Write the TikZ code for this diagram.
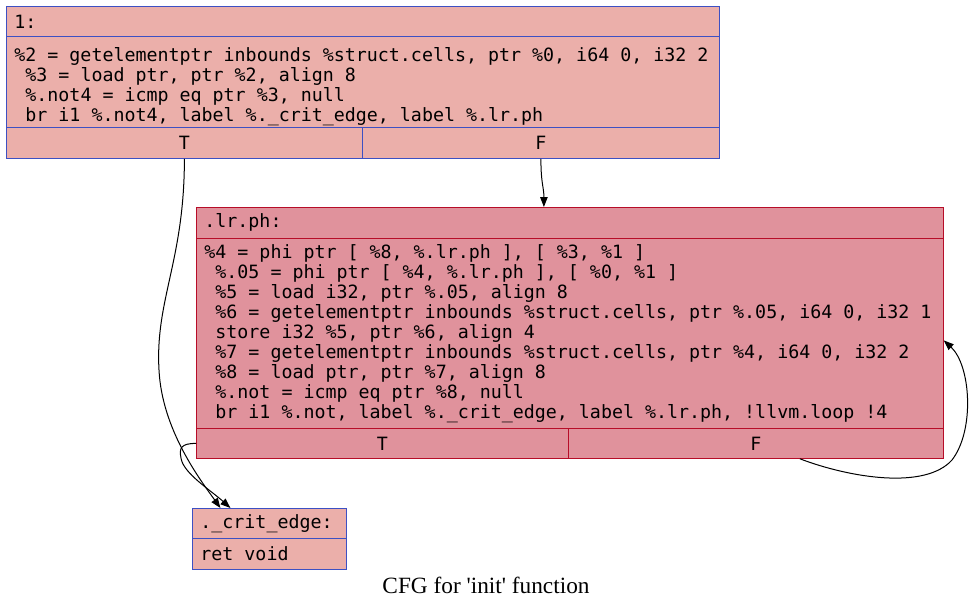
\documentclass[tikz,border=0pt]{standalone}
\usepackage{fontspec}
\setmainfont{Liberation Serif}
\setmonofont{DejaVu Sans Mono}
\usetikzlibrary{arrows.meta}

\definecolor{fundofrio}{RGB}{235,175,170}
\definecolor{fundoquente}{RGB}{224,146,156}
\definecolor{bordafria}{HTML}{3D50C3}
\definecolor{bordaquente}{HTML}{B70D28}

\newcommand{\esp}{\mbox{\ }}

\begin{document}
\begin{tikzpicture}[x=1pt,y=-1pt,
    bloco/.style={draw, line width=0.8pt, anchor=north west, inner ysep=0pt, inner xsep=8pt,
        font=\ttfamily\fontsize{18.3}{20}\selectfont, align=left,
        execute at begin node={\spaceskip=\fontdimen2\font\relax}},
    frio/.style={bloco, fill=fundofrio, draw=bordafria},
    quente/.style={bloco, fill=fundoquente, draw=bordaquente},
    ramo/.style={align=center},
    flecha/.style={-{Triangle[length=10pt,width=7.5pt]}, line width=1pt}]
    \useasboundingbox (0,0) rectangle (973,607);

    % Bloco 1
    \node[frio, text width=697pt, minimum height=30pt] (n1head) at (6,6) {1:};
    \node[frio, text width=697pt, minimum height=91pt] (n1body) at (6,36)
        {\rule{0pt}{24pt}\%2 = getelementptr inbounds \%struct.cells, ptr \%0, i64 0, i32 2\\
         \esp\%3 = load ptr, ptr \%2, align 8\\
         \esp\%.not4 = icmp eq ptr \%3, null\\
         \esp br i1 \%.not4, label \%.\_crit\_edge, label \%.lr.ph};
    \node[frio, ramo, text width=340pt, minimum height=31pt] (n1T) at (6,127) {T};
    \node[frio, ramo, text width=341pt, minimum height=31pt] (n1F) at (362,127) {F};

    % Bloco .lr.ph
    \node[quente, text width=731pt, minimum height=31pt] (lrhead) at (196,207) {.lr.ph:};
    \node[quente, text width=731pt, minimum height=190pt] (lrbody) at (196,238)
        {\%4 = phi ptr [ \%8, \%.lr.ph ], [ \%3, \%1 ]\\
         \esp\%.05 = phi ptr [ \%4, \%.lr.ph ], [ \%0, \%1 ]\\
         \esp\%5 = load i32, ptr \%.05, align 8\\
         \esp\%6 = getelementptr inbounds \%struct.cells, ptr \%.05, i64 0, i32 1\\
         \esp store i32 \%5, ptr \%6, align 4\\
         \esp\%7 = getelementptr inbounds \%struct.cells, ptr \%4, i64 0, i32 2\\
         \esp\%8 = load ptr, ptr \%7, align 8\\
         \esp\%.not = icmp eq ptr \%8, null\\
         \esp br i1 \%.not, label \%.\_crit\_edge, label \%.lr.ph, !llvm.loop !4};
    \node[quente, ramo, text width=356pt, minimum height=30pt] (lrT) at (196,428) {T};
    \node[quente, ramo, text width=359pt, minimum height=30pt] (lrF) at (568,428) {F};

    % Bloco ._crit_edge
    \node[frio, text width=138pt, minimum height=30pt] (crithead) at (192,508) {.\_crit\_edge:};
    \node[frio, text width=138pt, minimum height=31pt] (critbody) at (192,538) {ret void};

    % Arestas
    \draw[flecha] (n1T.south) .. controls +(0,102) and +(-4,-70) .. (159,370)
        .. controls +(3,60) and +(-20,-28) .. ([xshift=-49pt]crithead.north);
    \draw[flecha] (n1F.south) .. controls +(0,25) and +(0,-20) .. ([xshift=-26pt]lrhead.north);
    \draw[flecha] (lrT.west) .. controls +(-15,0) and +(-2,-10) .. (181,458)
        .. controls +(2,15) and +(-20,-18) .. ([xshift=-39pt]crithead.north);
    \draw[flecha] ([xshift=44pt]lrF.south) .. controls +(50,19) and +(-27,30) .. (952,460)
        .. controls +(23,-30) and +(27,25) .. ([yshift=-7pt]lrbody.east);

    % Titulo
    \node[font=\fontsize{23.3}{27}\selectfont] (titulo) at (486,585)
        {CFG for \textquotesingle init\textquotesingle{} function};
\end{tikzpicture}
\end{document}
